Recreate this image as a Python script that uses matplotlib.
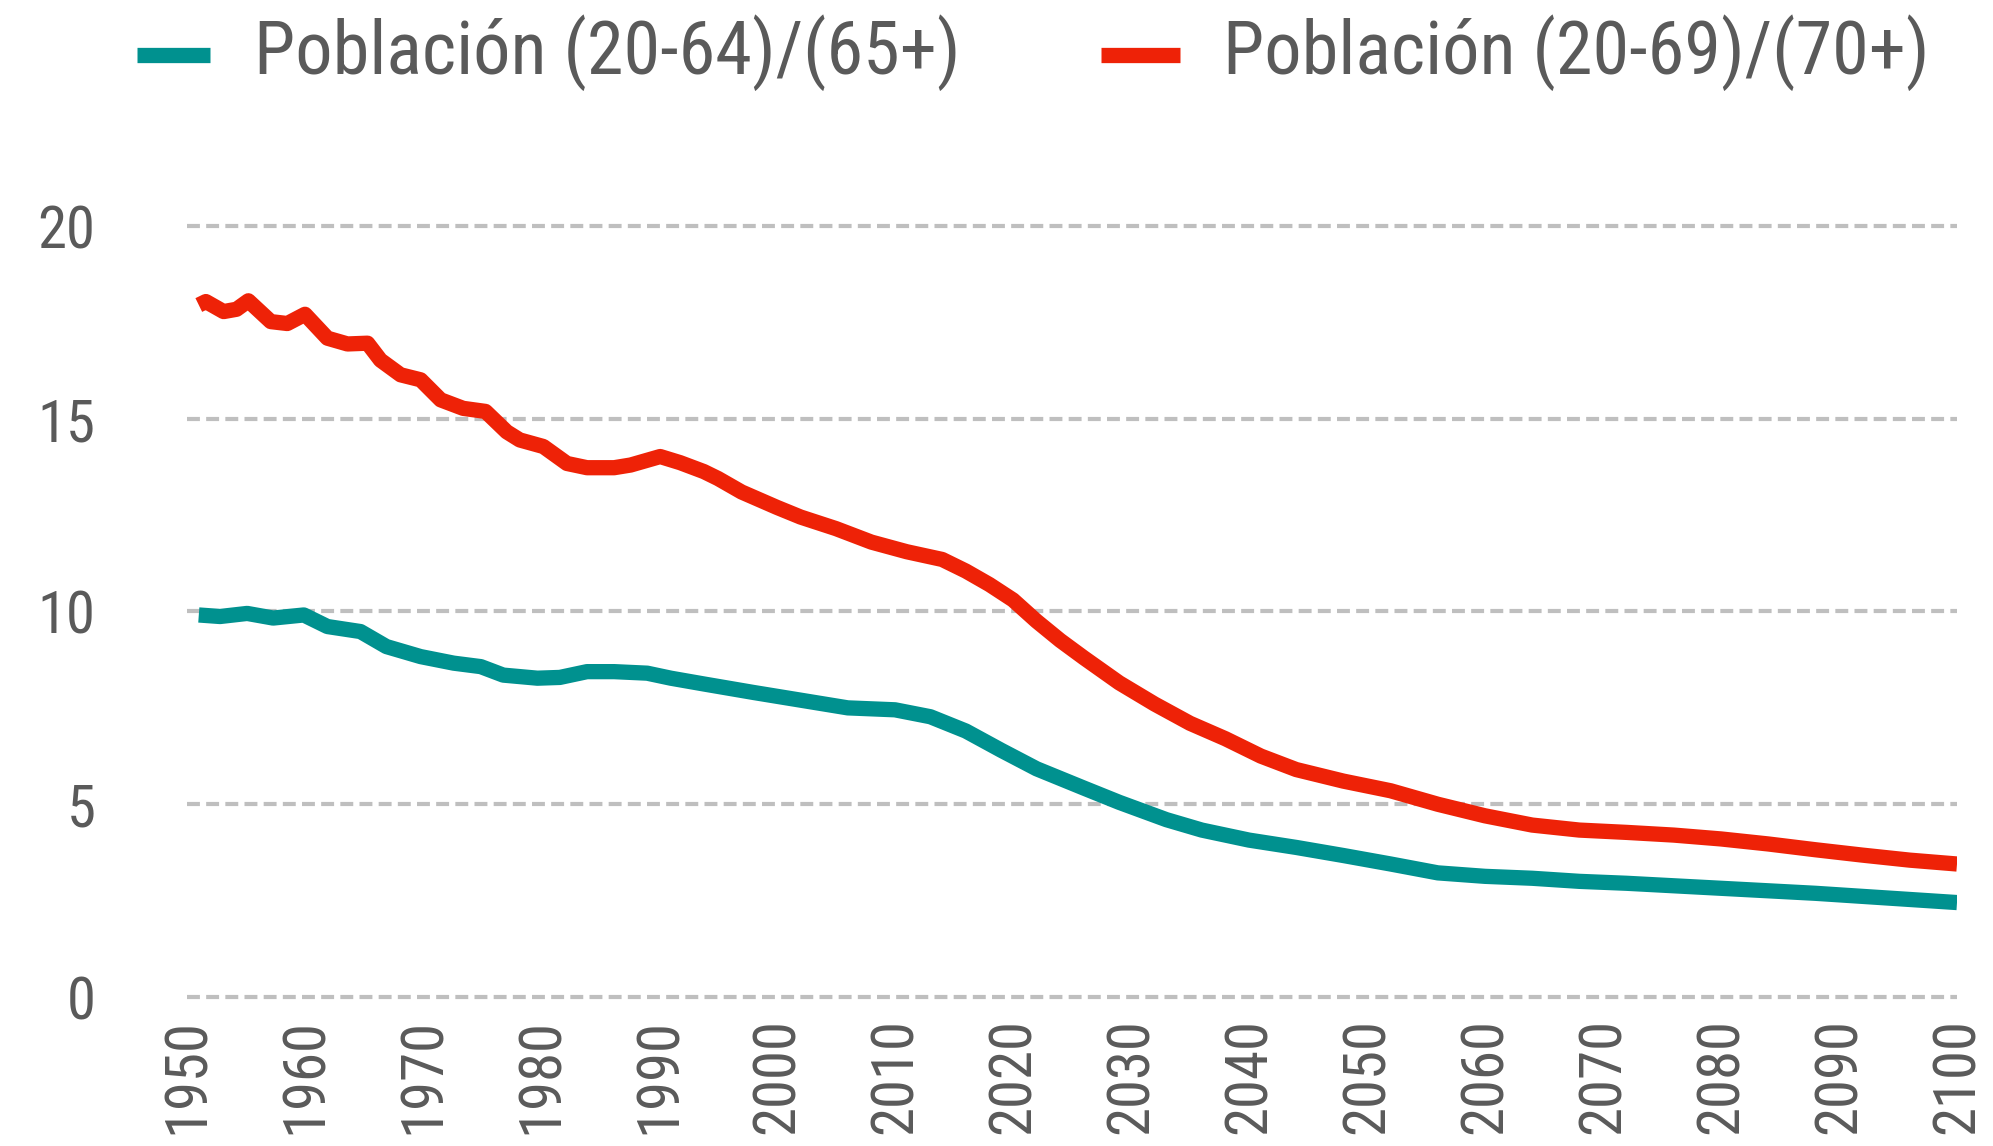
import matplotlib
matplotlib.use("Agg")
import matplotlib.pyplot as plt
from matplotlib.lines import Line2D
from matplotlib import font_manager as fm

# ---- data ----
years_red = [1951.0, 1951.6, 1953.1, 1954.2, 1955.2, 1957.1, 1958.5, 1960.0, 1961.9, 1963.6,
             1965.3, 1966.4, 1968.1, 1969.8, 1971.5, 1973.4, 1975.3, 1977.1, 1978.2, 1980.2,
             1982.2, 1983.9, 1986.2, 1987.6, 1990.1, 1991.8, 1993.8, 1995, 1997, 2000,
             2002, 2005, 2008, 2011, 2014, 2016, 2018, 2020, 2022, 2024,
             2026, 2029, 2032, 2035, 2038, 2041, 2044, 2048, 2052, 2056,
             2060, 2064, 2068, 2072, 2076, 2080, 2084, 2088, 2092, 2096, 2100]
ratio_20_69_70 = [17.95, 18.04, 17.78, 17.84, 18.06, 17.52, 17.47, 17.71, 17.09, 16.94,
                  16.96, 16.52, 16.14, 16.01, 15.49, 15.27, 15.19, 14.66, 14.45, 14.28,
                  13.84, 13.73, 13.73, 13.80, 14.02, 13.86, 13.63, 13.45, 13.10, 12.70,
                  12.45, 12.15, 11.80, 11.55, 11.35, 11.05, 10.70, 10.30, 9.75, 9.25,
                  8.80, 8.15, 7.60, 7.10, 6.70, 6.25, 5.90, 5.60, 5.35, 5.00,
                  4.70, 4.46, 4.33, 4.27, 4.20, 4.10, 3.97, 3.82, 3.68, 3.55, 3.45]

years_teal = [1951.0, 1952.8, 1955.1, 1957.3, 1959.9, 1961.9, 1964.7, 1966.9, 1969.8, 1972.6,
              1974.9, 1976.8, 1979.7, 1981.6, 1983.9, 1986.2, 1989.0, 1991.0, 1993.8, 1998,
              2003, 2006, 2010, 2013, 2016, 2019, 2022, 2026, 2029, 2033,
              2036, 2040, 2044, 2048, 2052, 2056, 2060, 2064, 2068, 2072,
              2080, 2088, 2096, 2100]
ratio_20_64_65 = [9.91, 9.87, 9.95, 9.83, 9.91, 9.61, 9.48, 9.09, 8.83, 8.66,
                  8.57, 8.35, 8.27, 8.29, 8.44, 8.44, 8.40, 8.27, 8.12, 7.90,
                  7.65, 7.50, 7.45, 7.27, 6.90, 6.40, 5.92, 5.42, 5.05, 4.60,
                  4.33, 4.07, 3.88, 3.67, 3.45, 3.22, 3.13, 3.08, 3.00, 2.95,
                  2.82, 2.69, 2.53, 2.45]

label_teal = "Población (20-64)/(65+)"
label_red = "Población (20-69)/(70+)"
yticks = [0, 5, 10, 15, 20]
xticks = list(range(1950, 2101, 10))

# ---- style ----
TEAL = "#00918F"
RED = "#EE2207"
GRID = "#BFBFBF"
TXT = "#5A5A5A"
LW = 11

# pick a narrow font if one is installed
names = sorted({f.name for f in fm.fontManager.ttflist})
family = None
for cand in ["Liberation Sans Narrow", "Roboto Condensed", "Open Sans Condensed",
             "Noto Sans Condensed", "DejaVu Sans Condensed", "Lato", "Roboto"]:
    if cand in names:
        family = cand
        break
if family is None:
    narrow = [n for n in names if "Narrow" in n or "Condensed" in n]
    family = narrow[0] if narrow else "DejaVu Sans"
stretch = "normal"
if family in ("DejaVu Sans",):
    stretch = "condensed"
plt.rcParams["font.family"] = [family, "DejaVu Sans"]
plt.rcParams["font.stretch"] = stretch

W, H = 1993, 1146
fig = plt.figure(figsize=(W / 100, H / 100), dpi=100)
renderer = fig.canvas.get_renderer()


def fit_size(text, target_w, target_h, heavy_w=0.6):
    t = fig.text(0, 0, text, fontsize=20)
    bb = t.get_window_extent(renderer)
    t.remove()
    s_w = 20 * target_w / bb.width
    s_h = target_h
    return s_w ** heavy_w * s_h ** (1 - heavy_w)


tick_fs = fit_size("1950", 118, 41)
leg_fs = fit_size(label_teal, 708, 53)

# axes placement in pixels
x0, x1 = 187, 1957          # 1950 .. 2100
y0px, y20px = 997, 226      # value 0 .. 20
ylo, yhi = -0.5, 20.5
ppu = (y0px - y20px) / 20.0
bot_px = y0px + (0 - ylo) * ppu
top_px = y20px - (yhi - 20) * ppu
ax = fig.add_axes([x0 / W, 1 - bot_px / H, (x1 - x0) / W, (bot_px - top_px) / H])

ax.plot(years_teal, ratio_20_64_65, color=TEAL, lw=LW, solid_capstyle="butt",
        solid_joinstyle="round", label=label_teal, zorder=3)
ax.plot(years_red, ratio_20_69_70, color=RED, lw=LW, solid_capstyle="butt",
        solid_joinstyle="round", label=label_red, zorder=3)

ax.set_xlim(1950, 2100)
ax.set_ylim(ylo, yhi)
ax.set_yticks(yticks)
ax.set_xticks(xticks)
ax.set_xticklabels([str(x) for x in xticks], rotation=90)
for s in ax.spines.values():
    s.set_visible(False)
ax.tick_params(axis="both", length=0, labelsize=tick_fs, labelcolor=TXT)
ax.tick_params(axis="y", pad=66)
ax.tick_params(axis="x", pad=1)
ax.grid(False)
for v in yticks:
    ax.axhline(v, color=GRID, lw=3, dashes=(3.1, 1.5), zorder=1)

# legend (manual layout to match reference positions)
ly = 1 - 55 / H
for (hx0, hx1, tx, col, lab) in [(137, 210, 254, TEAL, label_teal),
                                 (1101, 1180, 1223, RED, label_red)]:
    fig.add_artist(Line2D([hx0 / W, hx1 / W], [ly, ly], transform=fig.transFigure,
                          color=col, lw=LW, solid_capstyle="butt"))
    fig.text(tx / W, 1 - 53 / H, lab, fontsize=leg_fs, color=TXT,
             ha="left", va="center")

fig.savefig("out.png", dpi=100, facecolor="white")
